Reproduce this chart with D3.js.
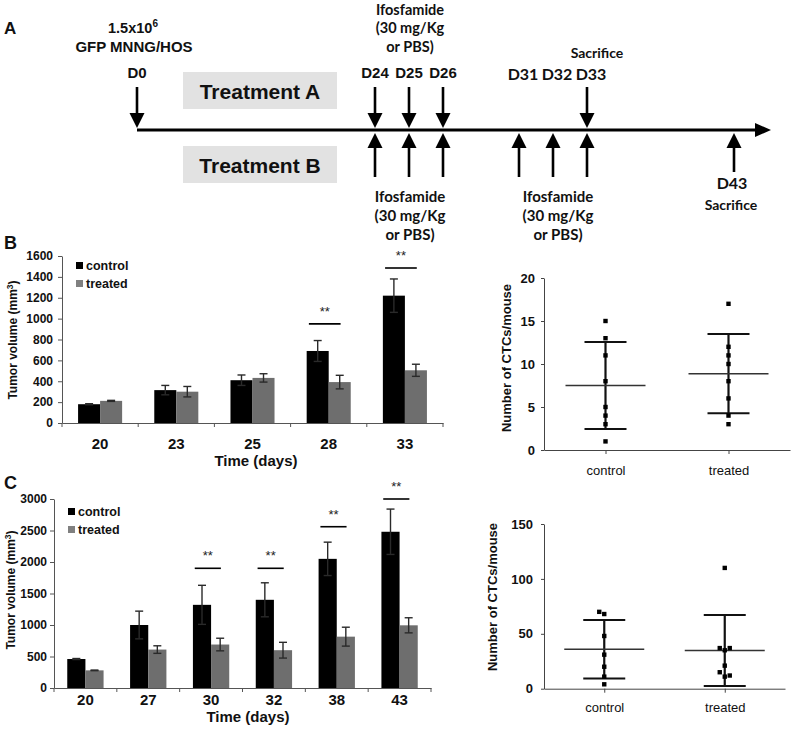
<!DOCTYPE html>
<html><head><meta charset="utf-8">
<script src="https://cdn.jsdelivr.net/npm/d3@7"></script>
<style>
html,body{margin:0;padding:0;background:#fff;}
svg{display:block;}
</style></head><body>
<svg id="fig" width="796" height="732"></svg>
<script>
// ---------------- DATA ----------------
// Panel A: schedule (days)
const injectionDays = [0];
const regimenADays = [24, 25, 26];
const sacrificeADays = [33];
const regimenBDays = [24, 25, 26, 31, 32, 33];
const sacrificeBDays = [43];
const topLabelDays = [0, 24, 25, 26, 31, 32, 33];
const timelineKeyDays = [0, 24, 26, 31, 33, 43];
const cellLines = ["1.5x10", "6", "GFP MNNG/HOS"];
const drugLines = ["Ifosfamide", "(30 mg/Kg", "or PBS)"];
const treatmentNames = ["Treatment A", "Treatment B"];
const sacrificeText = "Sacrifice";

// Panel B: tumour volume (mm3)
const daysB = ["20", "23", "25", "28", "33"];
const controlB = [180, 315, 410, 690, 1220];
const controlBErr = [5, 45, 50, 100, 160];
const treatedB = [212, 300, 432, 392, 505];
const treatedBErr = [5, 50, 40, 65, 58];
const sigLevelB = [null, null, null, 950, 1485];
const yTicksB = [0, 200, 400, 600, 800, 1000, 1200, 1400, 1600];

// Panel B: CTCs per mouse
const ctcBControl = [15, 13, 11, 8, 5, 4, 3, 1];
const ctcBTreated = [17, 12, 11, 10, 8, 6, 4, 3];
const ctcTicksB = [0, 5, 10, 15, 20];

// Panel C: tumour volume (mm3)
const daysC = ["20", "27", "30", "32", "38", "43"];
const controlC = [460, 1000, 1320, 1400, 2050, 2480];
const controlCErr = [8, 220, 310, 270, 265, 360];
const treatedC = [280, 610, 690, 600, 815, 995];
const treatedCErr = [5, 60, 100, 125, 150, 120];
const sigLevelC = [null, null, 1900, 1900, 2560, 3000];
const yTicksC = [0, 500, 1000, 1500, 2000, 2500, 3000];

// Panel C: CTCs per mouse
const ctcCControl = [68, 70, 48, 31, 20, 11, 4];
const ctcCTreated = [110, 35, 37, 37, 21, 11, 15, 12];
const ctcTicksC = [0, 50, 100, 150];

const groups = ["control", "treated"];

// ---------------- DRAWING ----------------
const AR = "'Liberation Sans', Arial, Helvetica, sans-serif";
const LA = "Lato, 'Open Sans', sans-serif";
const COL = {control: "#000000", treated: "#6e6e6e"};

const svg = d3.select("#fig");
svg.append("rect").attr("width", 796).attr("height", 732).attr("fill", "#fff");

function txt(g, x, y, s, o = {}) {
  return g.append("text").attr("x", x).attr("y", y)
    .attr("text-anchor", o.anchor || "middle")
    .attr("font-family", o.family || AR)
    .attr("font-weight", o.weight || "bold")
    .attr("font-size", o.size || 15)
    .attr("fill", o.fill || "#111").text(s);
}

// panel letters
txt(svg, 4, 34, "A", {anchor: "start", size: 17});
txt(svg, 4, 249, "B", {anchor: "start", size: 18});
txt(svg, 4, 489, "C", {anchor: "start", size: 18});

// ---------- Panel A ----------
(function () {
  const A = svg.append("g");
  const tx = d3.scaleLinear().domain(timelineKeyDays).range([137, 375, 443, 519, 587, 734]);
  const lineY = 130;
  const end = tx(d3.max(sacrificeBDays));

  // treatment boxes
  A.selectAll(".tbox").data(treatmentNames).join("rect")
    .attr("x", 183).attr("y", (d, i) => i === 0 ? 72 : 146)
    .attr("width", 154).attr("height", 37).attr("fill", "#e2e2e2");
  treatmentNames.forEach((t, i) => txt(A, 260, i === 0 ? 99 : 173, t, {size: 21, fill: "#111"}));

  // timeline
  A.append("line").attr("x1", tx(0)).attr("x2", end + 23).attr("y1", lineY).attr("y2", lineY)
    .attr("stroke", "#000").attr("stroke-width", 3);
  A.append("path").attr("d", `M${end + 21},123L${end + 37},${lineY}L${end + 21},137Z`).attr("fill", "#000");

  // down arrows
  const downDays = injectionDays.concat(regimenADays, sacrificeADays);
  A.selectAll(".dshaft").data(downDays).join("line")
    .attr("x1", d => tx(d)).attr("x2", d => tx(d)).attr("y1", 87).attr("y2", 115)
    .attr("stroke", "#000").attr("stroke-width", 2.6);
  A.selectAll(".dhead").data(downDays).join("path")
    .attr("d", d => `M${tx(d) - 7.5},113L${tx(d) + 7.5},113L${tx(d)},128Z`).attr("fill", "#000");

  // up arrows
  const upDays = regimenBDays.concat(sacrificeBDays);
  A.selectAll(".ushaft").data(upDays).join("line")
    .attr("x1", d => tx(d)).attr("x2", d => tx(d)).attr("y1", 146)
    .attr("y2", d => sacrificeBDays.includes(d) ? 172 : 177)
    .attr("stroke", "#000").attr("stroke-width", 2.6);
  A.selectAll(".uhead").data(upDays).join("path")
    .attr("d", d => `M${tx(d)},133L${tx(d) + 7.5},148L${tx(d) - 7.5},148Z`).attr("fill", "#000");

  // day labels on top
  topLabelDays.forEach(d => {
    const late = d >= 31;
    txt(A, tx(d) + (late ? 4 : 0), late ? 80 : 78, "D" + d,
      {family: late ? LA : AR, size: late ? 16 : 15});
  });

  // cell injection label
  const t1 = txt(A, 133, 33, cellLines[0], {size: 14.5});
  t1.append("tspan").attr("dy", -6).attr("font-size", 10).text(cellLines[1]);
  txt(A, 134, 52, cellLines[2], {size: 15});

  // drug blocks
  const cx1 = (tx(regimenADays[0]) + tx(regimenADays[2])) / 2 + 1;
  drugLines.forEach((s, i) => txt(A, cx1, 14.5 + i * 18.5, s, {family: LA, size: 14.5}));
  drugLines.forEach((s, i) => txt(A, cx1, 202 + i * 19, s, {family: LA, size: 15}));
  const cx2 = (tx(31) + tx(33)) / 2 + 5;
  drugLines.forEach((s, i) => txt(A, cx2, 202 + i * 19, s, {family: LA, size: 15}));

  // sacrifice labels
  txt(A, tx(sacrificeADays[0]) + 10, 58, sacrificeText, {family: LA, size: 14});
  txt(A, tx(sacrificeBDays[0]) - 2, 189, "D" + sacrificeBDays[0], {family: LA, size: 16});
  txt(A, tx(sacrificeBDays[0]) - 3, 210, sacrificeText, {family: LA, size: 14});
})();

// ---------- Bar charts ----------
function barChart(cfg) {
  const g = svg.append("g");
  const x0 = d3.scaleBand().domain(cfg.days).range(cfg.xr);
  const x1 = d3.scaleBand().domain(groups).range([0, x0.bandwidth()]).paddingInner(0).paddingOuter(0.73);
  const y = d3.scaleLinear().domain([0, cfg.yMax]).range(cfg.yr);
  const rows = cfg.days.map((d, i) => ({
    day: d, sig: cfg.sig[i],
    vals: [{k: "control", v: cfg.control[i], e: cfg.controlErr[i]},
           {k: "treated", v: cfg.treated[i], e: cfg.treatedErr[i]}]
  }));

  // bars
  const cat = g.selectAll(".cat").data(rows).join("g").attr("transform", d => `translate(${x0(d.day)},0)`);
  cat.selectAll("rect").data(d => d.vals).join("rect")
    .attr("x", d => x1(d.k)).attr("width", x1.bandwidth())
    .attr("y", d => y(d.v)).attr("height", d => y(0) - y(d.v))
    .attr("fill", d => COL[d.k]);
  // error bars
  const eb = cat.selectAll(".eb").data(d => d.vals).join("g")
    .attr("transform", d => `translate(${x1(d.k) + x1.bandwidth() / 2},0)`)
    .attr("stroke", "#2a2a2a").attr("stroke-width", 1.4);
  eb.append("line").attr("y1", d => y(d.v - d.e)).attr("y2", d => y(d.v + d.e));
  eb.append("line").attr("x1", -4).attr("x2", 4).attr("y1", d => y(d.v + d.e)).attr("y2", d => y(d.v + d.e));
  eb.append("line").attr("x1", -4).attr("x2", 4).attr("y1", d => y(d.v - d.e)).attr("y2", d => y(d.v - d.e));

  // significance
  const sigRows = rows.filter(r => r.sig != null);
  const pairW = x1.bandwidth() * 2;
  sigRows.forEach(r => {
    const c = x0(r.day) + x0.bandwidth() / 2;
    const xa = c - pairW * 0.45, xb = c + pairW * 0.27;
    g.append("line").attr("x1", xa).attr("x2", xb).attr("y1", y(r.sig)).attr("y2", y(r.sig))
      .attr("stroke", "#000").attr("stroke-width", 1.6);
    txt(g, (xa + xb) / 2, y(r.sig) - 8, "**", {weight: "normal", size: 13, fill: "#222"});
  });

  // y axis
  const ya = g.append("g").attr("transform", `translate(${cfg.xr[0]},0)`)
    .call(d3.axisLeft(y).tickValues(cfg.ticks).tickFormat(d3.format("d"))
      .tickSize(4).tickSizeOuter(0).tickPadding(cfg.yPad));
  ya.select(".domain").attr("stroke", "#555");
  ya.selectAll(".tick line").attr("stroke", "#555");
  ya.selectAll("text").attr("font-family", AR).attr("font-weight", "bold").attr("font-size", 12).attr("fill", "#111");

  // x axis
  const xa = g.append("g").attr("transform", `translate(0,${y(0)})`)
    .call(d3.axisBottom(x0).tickSize(0).tickSizeOuter(0).tickPadding(cfg.xPad));
  xa.select(".domain").attr("stroke", "#555");
  xa.selectAll("text").attr("font-family", AR).attr("font-weight", "bold").attr("font-size", 15).attr("fill", "#111");
  const bounds = cfg.days.map(d => x0(d)).concat([cfg.xr[1]]);
  g.selectAll(".bt").data(bounds).join("line")
    .attr("x1", d => d).attr("x2", d => d).attr("y1", y(0)).attr("y2", y(0) + 4)
    .attr("stroke", "#555");

  txt(g, cfg.titleX, cfg.titleY, "Time (days)", {size: 15});

  // y label
  const yl = g.append("text").attr("transform", `translate(${cfg.ylX},${cfg.ylY}) rotate(-90)`)
    .attr("text-anchor", "middle").attr("font-family", AR).attr("font-weight", "bold")
    .attr("font-size", 12).attr("fill", "#111").text("Tumor volume (mm");
  yl.append("tspan").attr("dy", -4).attr("font-size", 8.5).text("3");
  yl.append("tspan").attr("dy", 4).text(")");

  // legend
  groups.forEach((k, i) => {
    g.append("rect").attr("x", cfg.legX).attr("y", cfg.legY + i * 18).attr("width", 7).attr("height", 7)
      .attr("fill", k === "control" ? COL.control : "#808080");
    txt(g, cfg.legX + 10, cfg.legY + 7.5 + i * 18, k, {anchor: "start", size: 12.5});
  });
}

barChart({days: daysB, control: controlB, controlErr: controlBErr, treated: treatedB, treatedErr: treatedBErr,
  sig: sigLevelB, ticks: yTicksB, yMax: 1600, xr: [62, 443], yr: [423, 256], yPad: 5, xPad: 15,
  titleX: 256, titleY: 466, ylX: 17, ylY: 340, legX: 76, legY: 262});

barChart({days: daysC, control: controlC, controlErr: controlCErr, treated: treatedC, treatedErr: treatedCErr,
  sig: sigLevelC, ticks: yTicksC, yMax: 3000, xr: [54, 431], yr: [688, 499], yPad: 3, xPad: 6,
  titleX: 248, titleY: 722, ylX: 14.5, ylY: 590, legX: 68, legY: 508});

// ---------- Scatter (CTC) ----------
function scatter(cfg) {
  const g = svg.append("g");
  const x = d3.scalePoint().domain(groups).range(cfg.xr).padding(0.5);
  const y = d3.scaleLinear().domain([0, cfg.yMax]).range(cfg.yr);
  const sets = [{k: "control", vals: cfg.ctrl}, {k: "treated", vals: cfg.trt}];

  // axes
  const ya = g.append("g").attr("transform", `translate(${cfg.xr[0]},0)`)
    .call(d3.axisLeft(y).tickValues(cfg.ticks).tickSize(3).tickSizeOuter(0).tickPadding(cfg.yPad));
  ya.select(".domain").attr("stroke", "#444");
  ya.selectAll(".tick line").attr("stroke", "#444");
  ya.selectAll("text").attr("font-family", AR).attr("font-weight", "bold").attr("font-size", 13).attr("fill", "#111");
  const xa = g.append("g").attr("transform", `translate(0,${y(0)})`)
    .call(d3.axisBottom(x).tickSize(4).tickSizeOuter(0).tickPadding(cfg.xPad));
  xa.select(".domain").attr("stroke", "#444");
  xa.selectAll(".tick line").attr("stroke", "#444");
  xa.selectAll("text").attr("font-family", AR).attr("font-weight", "normal").attr("font-size", 13).attr("fill", "#111");

  sets.forEach(s => {
    const cx = x(s.k);
    const m = d3.mean(s.vals), sd = d3.deviation(s.vals);
    // SD bar
    g.append("line").attr("x1", cx).attr("x2", cx).attr("y1", y(m - sd)).attr("y2", y(m + sd))
      .attr("stroke", "#111").attr("stroke-width", 2.2);
    [m - sd, m + sd].forEach(v => g.append("line").attr("x1", cx - 21).attr("x2", cx + 21)
      .attr("y1", y(v)).attr("y2", y(v)).attr("stroke", "#111").attr("stroke-width", 2));
    // mean
    g.append("line").attr("x1", cx - 40).attr("x2", cx + 40).attr("y1", y(m)).attr("y2", y(m))
      .attr("stroke", "#333").attr("stroke-width", 1.5);
    // points with simple dodge
    const placed = [];
    s.vals.forEach(v => {
      const py = y(v);
      for (const k of [0, -1, 1, -2, 2]) {
        const px = cx + k * 5;
        if (!placed.some(p => Math.abs(p.py - py) < 5 && Math.abs(p.px - px) < 5)) {
          placed.push({px, py}); break;
        }
      }
    });
    g.selectAll(null).data(placed).join("rect")
      .attr("x", d => d.px - 2.2).attr("y", d => d.py - 2.2).attr("width", 4.4).attr("height", 4.4)
      .attr("fill", "#000");
  });

  g.append("text").attr("transform", `translate(${cfg.ylX},${cfg.ylY}) rotate(-90)`)
    .attr("text-anchor", "middle").attr("font-family", AR).attr("font-weight", "bold")
    .attr("font-size", 13).attr("fill", "#111").text("Number of CTCs/mouse");
}

scatter({ctrl: ctcBControl, trt: ctcBTreated, yMax: 20, ticks: ctcTicksB, xr: [544, 790], yr: [450, 278],
  yPad: 6, xPad: 12, ylX: 511, ylY: 358});
scatter({ctrl: ctcCControl, trt: ctcCTreated, yMax: 150, ticks: ctcTicksC, xr: [544, 785], yr: [688.7, 524],
  yPad: 8, xPad: 10, ylX: 497, ylY: 597});
</script>
</body></html>
